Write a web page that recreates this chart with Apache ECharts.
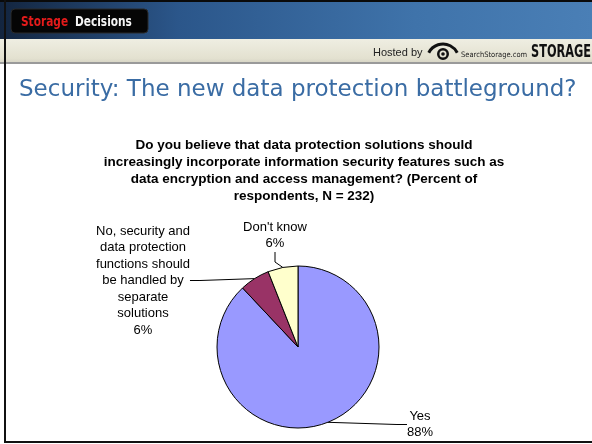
<!DOCTYPE html>
<html><head><meta charset="utf-8">
<script src="https://cdn.jsdelivr.net/npm/echarts@6/dist/echarts.min.js"></script>
<style>html,body{margin:0;padding:0;background:#fff}#c{width:592px;height:444px}</style>
</head><body><div id="c"></div>
<script>
const categories = ['Yes', 'No, security and\ndata protection\nfunctions should\nbe handled by\nseparate\nsolutions', "Don't know"];
const values = [88, 6, 6];
const colors = ['#9999FF', '#993366', '#FFFFCC'];
const pageTitle = 'Security: The new data protection battleground?';
const question = 'Do you believe that data protection solutions should\nincreasingly incorporate information security features such as\ndata encryption and access management? (Percent of\nrespondents, N = 232)';
const hostedBy = 'Hosted by';
const brandRed = 'Storage';
const brandWhite = 'Decisions';
const siteName = 'SearchStorage.com';
const magName = 'STORAGE';

const labelSpots = [
  {x: 420, y: 424.5},
  {x: 143, y: 280.5},
  {x: 275, y: 235.5}
];

const chart = echarts.init(document.getElementById('c'), null, {renderer: 'canvas'});
const option = {
  backgroundColor: '#ffffff',
  animation: false,
  graphic: [
    {type: 'rect', shape: {x: 0, y: 0, width: 592, height: 39}, z: 1,
      style: {fill: new echarts.graphic.LinearGradient(0, 0, 1, 0, [
        {offset: 0, color: '#13253f'}, {offset: 0.3, color: '#2b568a'}, {offset: 0.7, color: '#3f73aa'}, {offset: 1, color: '#4a7fb6'}])}},
    {type: 'rect', shape: {x: 0, y: 0, width: 592, height: 2}, z: 2, style: {fill: '#0a0a0a'}},
    {type: 'rect', shape: {x: 11, y: 9, width: 137, height: 24, r: 4}, z: 3, style: {fill: '#050505', stroke: '#2a2a2a', lineWidth: 1}},
    {type: 'text', z: 4, x: 21, y: 22, scaleX: 0.84, style: {x: 0, y: 0, text: brandRed, fill: '#e41b1b', font: 'bold 14px "DejaVu Sans Condensed"', textVerticalAlign: 'middle'}},
    {type: 'text', z: 4, x: 75, y: 22, scaleX: 0.84, style: {x: 0, y: 0, text: brandWhite, fill: '#f4f4f4', font: 'bold 14px "DejaVu Sans Condensed"', textVerticalAlign: 'middle'}},
    {type: 'rect', shape: {x: 0, y: 39, width: 592, height: 24}, z: 1,
      style: {fill: new echarts.graphic.LinearGradient(0, 0, 0, 1, [
        {offset: 0, color: '#efeee2'}, {offset: 0.8, color: '#e3e1d0'}, {offset: 1, color: '#d6d4c4'}])}},
    {type: 'rect', shape: {x: 0, y: 62, width: 592, height: 2}, z: 2, style: {fill: '#9a9a9a'}},
    {type: 'text', z: 4, style: {x: 373, y: 53, text: hostedBy, fill: '#222', font: '11px "Liberation Sans"', textVerticalAlign: 'middle'}},
    {type: 'arc', z: 4, shape: {cx: 443, cy: 60, r: 16, startAngle: Math.PI * 1.15, endAngle: Math.PI * 1.85}, style: {stroke: '#111', lineWidth: 3, fill: null}},
    {type: 'ring', z: 4, shape: {cx: 443, cy: 54, r: 6, r0: 3.5}, style: {fill: '#111'}},
    {type: 'circle', z: 4, shape: {cx: 443, cy: 54, r: 1.8}, style: {fill: '#111'}},
    {type: 'text', z: 4, style: {x: 461, y: 55, text: siteName, fill: '#222', font: '7.5px "DejaVu Sans Condensed"', textVerticalAlign: 'middle'}},
    {type: 'text', z: 4, x: 591, y: 53, scaleX: 0.74, style: {x: 0, y: 0, text: magName, fill: '#111', font: 'bold 17px "DejaVu Sans Condensed"', textAlign: 'right', textVerticalAlign: 'middle'}},
    {type: 'rect', shape: {x: 4, y: 0, width: 2, height: 443}, z: 5, style: {fill: '#111'}},
    {type: 'rect', shape: {x: 4, y: 441, width: 588, height: 2}, z: 5, style: {fill: '#111'}},
    {type: 'text', z: 4, style: {x: 19, y: 90, text: pageTitle, fill: '#3a6ca4', font: '23px "DejaVu Sans"', textVerticalAlign: 'middle'}},
    {type: 'text', z: 4, style: {x: 304, y: 171, text: question, fill: '#000', font: 'bold 13.5px "Liberation Sans"', textAlign: 'center', textVerticalAlign: 'middle', lineHeight: 17}}
  ],
  series: [{
    type: 'pie',
    center: [298, 347],
    radius: 81,
    startAngle: 90,
    clockwise: true,
    data: categories.map((c, i) => ({name: c, value: values[i], itemStyle: {color: colors[i]}})),
    itemStyle: {borderColor: '#000', borderWidth: 1},
    label: {
      show: true, position: 'outside', formatter: '{b}\n{c}%',
      color: '#000', fontFamily: 'Liberation Sans', fontSize: 13, lineHeight: 16.5
    },
    labelLine: {show: true, length: 10, length2: 10, lineStyle: {color: '#000', width: 1}},
    labelLayout: function (p) {
      const s = labelSpots[p.dataIndex];
      return {x: s.x, y: s.y, align: 'center', verticalAlign: 'middle'};
    },
    emphasis: {disabled: true}
  }]
};
chart.setOption(option);
</script></body></html>
